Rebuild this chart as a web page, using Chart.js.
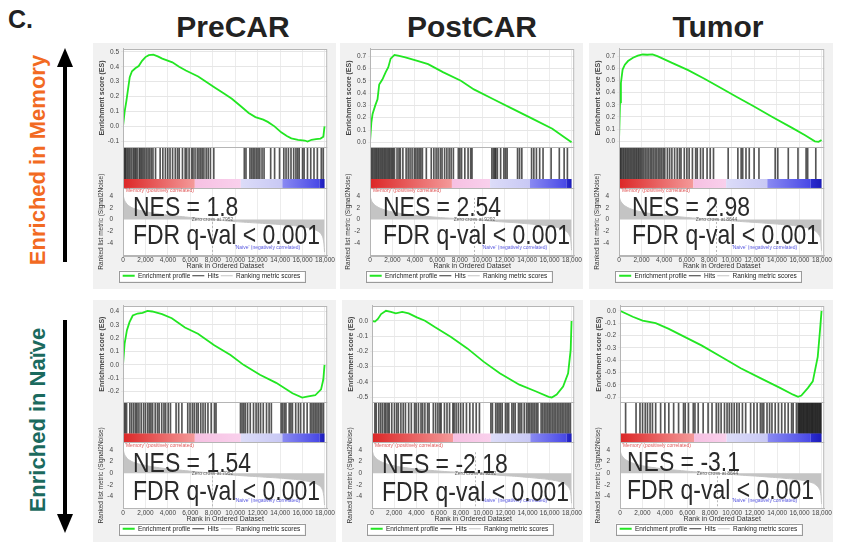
<!DOCTYPE html>
<html>
<head>
<meta charset="utf-8">
<script src="https://cdn.jsdelivr.net/npm/chart.js@4.4.0/dist/chart.umd.min.js"></script>
<style>
  body { margin: 0; width: 842px; height: 542px; position: relative; background: #fff; overflow: hidden;
         font-family: "Liberation Sans", Arial, sans-serif; }
  canvas { position: absolute; background: #f1f1f1; }
  .ttl { position: absolute; font-weight: bold; font-size: 30px; line-height: 1; color: #222; transform: translateX(-50%); white-space: nowrap; }
  .big { position: absolute; font-size: 28px; line-height: 1; color: #2a2a2a; transform: scaleX(0.82); transform-origin: 0 0; white-space: nowrap; }
  .side { position: absolute; font-weight: bold; font-size: 22px; line-height: 1; white-space: nowrap; transform: translate(-50%, -50%) rotate(-90deg); }
</style>
</head>
<body>
<div class="ttl" style="top:7px;font-size:25px;transform:none;left:8px">C.</div>
<div class="ttl" style="left:233px;top:12px">PreCAR</div>
<div class="ttl" style="left:472px;top:12px">PostCAR</div>
<div class="ttl" style="left:718px;top:12px">Tumor</div>
<div class="side" style="left:38px;top:160px;color:#f26a22">Enriched in Memory</div>
<div class="side" style="left:38px;top:420px;color:#1b6a5e">Enriched in Naïve</div>
<svg style="position:absolute;left:0;top:0" width="100" height="542">
  <line x1="65" y1="262" x2="65" y2="62" stroke="#000" stroke-width="4"/>
  <polygon points="65,48 57,67 73,67" fill="#000"/>
  <line x1="65" y1="320" x2="65" y2="518" stroke="#000" stroke-width="4"/>
  <polygon points="65,533 57,514 73,514" fill="#000"/>
</svg>

<canvas id="c1" width="243" height="246" style="left:93px;top:43px"></canvas>
<canvas id="c2" width="243" height="246" style="left:340px;top:43px"></canvas>
<canvas id="c3" width="244" height="246" style="left:589px;top:43px"></canvas>
<canvas id="c4" width="243" height="242" style="left:93px;top:300px"></canvas>
<canvas id="c5" width="241" height="242" style="left:342px;top:300px"></canvas>
<canvas id="c6" width="243" height="242" style="left:590px;top:300px"></canvas>

<div class="big" style="left:133px;top:193px">NES = 1.8</div>
<div class="big" style="left:133px;top:221px">FDR q-val &lt; 0.001</div>
<div class="big" style="left:383px;top:193px">NES = 2.54</div>
<div class="big" style="left:383px;top:221px">FDR q-val &lt; 0.001</div>
<div class="big" style="left:632px;top:193px">NES = 2.98</div>
<div class="big" style="left:632px;top:221px">FDR q-val &lt; 0.001</div>
<div class="big" style="left:133px;top:449px">NES = 1.54</div>
<div class="big" style="left:133px;top:477px">FDR q-val &lt; 0.001</div>
<div class="big" style="left:382px;top:450px">NES = -2.18</div>
<div class="big" style="left:382px;top:478px">FDR q-val &lt; 0.001</div>
<div class="big" style="left:627px;top:448px">NES = -3.1</div>
<div class="big" style="left:627px;top:476px">FDR q-val &lt; 0.001</div>

<script>
// ---- data ----
const xTicks = [0, 2000, 4000, 6000, 8000, 10000, 12000, 14000, 16000, 18000];
const rankTicks = [-4, -2, 0, 2, 4];

// enrichment curves, memory gene set (top row)
const esMemPreX = [0,150,300,450,600,800,1100,1400,1700,2000,2300,2700,3100,3500,4400,5000,5600,6700,7400,8200,9000,9700,10500,11200,11800,12500,12900,13500,14100,14600,15000,15600,16200,16450,16800,17200,17600,17850,17960];
const esMemPreY = [0,0.1,0.17,0.25,0.33,0.37,0.39,0.405,0.44,0.465,0.478,0.482,0.47,0.455,0.43,0.4,0.375,0.335,0.3,0.26,0.22,0.185,0.135,0.09,0.062,0.045,0.03,0,-0.04,-0.065,-0.08,-0.09,-0.095,-0.102,-0.09,-0.085,-0.082,-0.07,0];
const esMemPostX = [0,120,230,470,670,820,1100,1400,1630,1840,2180,2500,3150,4300,5180,6500,8100,9260,11000,12760,14500,16250,17130,17960];
const esMemPostY = [0,0.16,0.23,0.3,0.35,0.47,0.51,0.57,0.61,0.68,0.71,0.705,0.69,0.66,0.635,0.57,0.5,0.43,0.35,0.27,0.19,0.11,0.054,0];
const esMemTumX = [0,90,170,320,520,800,1240,1670,2100,2500,2970,3400,4700,6130,7575,9000,10450,11900,13600,15350,16500,17370,17700,17960];
const esMemTumY = [0,0.32,0.48,0.59,0.63,0.66,0.687,0.705,0.714,0.712,0.715,0.7,0.645,0.585,0.515,0.44,0.365,0.29,0.2,0.11,0.05,0,-0.005,0.01];

// enrichment curves, naive gene set (bottom row)
const esNaiPreX = [0,145,350,580,870,1300,1740,2180,2600,3480,4350,5520,6680,8130,9580,10740,12200,13650,15100,15970,16400,17130,17650,17850,17960];
const esNaiPreY = [0,0.16,0.26,0.32,0.37,0.385,0.39,0.405,0.4,0.38,0.35,0.28,0.233,0.147,0.074,0,-0.074,-0.135,-0.213,-0.245,-0.238,-0.228,-0.184,-0.11,0];
const esNaiPostX = [0,270,530,820,1260,1700,2140,2720,3300,4040,4770,5650,7110,8580,10040,11500,13260,14720,15900,16180,16620,17200,17650,17880,17960];
const esNaiPostY = [0,-0.004,0.013,0.045,0.067,0.06,0.05,0.06,0.05,0.024,0.002,-0.04,-0.105,-0.18,-0.267,-0.343,-0.418,-0.461,-0.498,-0.502,-0.483,-0.43,-0.343,-0.19,0];
const esNaiTumX = [0,1140,2010,3180,4350,5800,7260,9010,10760,12510,14260,15430,15870,16160,16750,17180,17620,17820,17960];
const esNaiTumY = [0,-0.048,-0.08,-0.1,-0.146,-0.213,-0.28,-0.373,-0.466,-0.546,-0.625,-0.68,-0.697,-0.687,-0.625,-0.572,-0.373,-0.16,0];

// hit positions (rank of each gene-set member)
const hitsMemPre = [90,180,260,380,500,620,760,910,1030,1140,1260,1440,1550,1670,1790,1930,2080,2230,2370,2520,2670,2900,3310,3550,3780,3990,4190,4420,4660,4860,5010,5300,5540,5680,5890,6120,6240,6420,6620,6770,6920,7060,7210,7410,7590,7790,8090,10810,10960,11310,11460,11600,11750,11900,12040,12190,12390,12570,13160,13510,13950,14330,14530,14740,14970,15210,15410,15560,15700,16000,16140,16440,16730,17020,17320,17670,17840];
const hitsMemPost = [90,200,320,440,550,670,780,900,1020,1130,1250,1360,1480,1600,1710,1830,1950,2060,2180,2410,2580,2700,2930,3220,3400,3570,3750,3950,4090,4240,4380,4530,4670,5020,5460,5690,5890,6070,6270,6420,6650,6850,7050,7230,7430,7870,8010,8160,8450,8740,8970,9090,10860,11000,11120,11210,11350,11640,11930,12080,12220,13150,13330,13530,14400,14600,14830,15120,15420,16140,16870,17300,17590];
const hitsMemTum = [30,120,200,320,430,550,660,780,890,1010,1120,1240,1350,1470,1580,1700,1810,1930,2050,2190,2330,2480,2620,2770,2910,3050,3200,3340,3490,3630,3770,3920,4060,4290,4490,4690,4930,5160,5360,5500,5790,6020,6220,6510,6800,6940,7230,7460,7810,8090,8380,9680,10540,10830,10970,11260,11550,11980,12410,13850,14080,15010,15870,16590,16730,17450];
const hitsNaiPre = [90,200,320,610,780,960,1130,1250,1420,1620,1830,2000,2200,2350,2490,2640,2870,3070,3220,3450,3650,3800,4030,4230,4730,4960,5250,5770,5970,6180,6350,6550,6700,6930,7130,7330,7570,7860,8150,8290,10470,10610,10760,10900,11100,11340,11630,11860,12060,12260,12500,12790,13020,13220,14090,14230,14380,14520,14810,14960,15100,15390,15630,15830,16120,16410,16700,16840,16990,17130,17280,17420,17570,17710,17860];
const hitsNaiPost = [260,380,610,790,960,1140,1260,1430,1550,1780,2020,2220,2370,2600,2810,3010,3300,3540,3830,3970,4180,4410,4560,4760,5000,5140,5520,5730,5930,6110,6220,6520,6750,6980,7280,7390,7570,7770,7980,8210,8500,8800,9090,9380,9670,10700,10840,11130,11280,11430,11570,11720,12010,12160,12300,12590,12740,12890,13180,13320,13470,13700,13910,14060,14200,14350,14490,14640,14790,14930,15220,15370,15520,15660,15810,15950,16100,16250,16390,16540,16690,16830,16980,17120,17270,17420,17560,17710,17850];
const hitsNaiTum = [500,1430,1780,2010,2250,2450,2680,2890,3180,3620,4000,4350,4780,5220,5660,5810,6100,6530,6680,6970,7410,7850,8200,8580,8780,9010,9310,9540,9740,9950,10180,10410,10620,10910,11200,11640,11930,12220,12510,12660,12810,13100,13330,13540,13830,14120,14410,14700,14990,15290,15430,15720,15870,15950,16020,16090,16160,16230,16310,16380,16450,16530,16600,16670,16740,16820,16890,16960,17040,17110,17180,17250,17330,17400,17470,17550,17620,17700,17770,17840,17910];

// ranked list metric (signal-to-noise) per comparison
const rankPreX = [0,30,150,400,800,1500,2500,4000,6000,7952,10000,12000,14000,15500,16500,17200,17600,17800,17900,17960];
const rankPreY = [4.9,4.0,3.2,2.5,2.0,1.55,1.15,0.75,0.35,0,-0.35,-0.6,-0.85,-1.1,-1.4,-1.8,-2.3,-3.0,-4.0,-5.5];
const rankPostX = [0,30,150,400,800,1500,2500,4000,6500,9292,11000,13000,14500,15800,16700,17300,17650,17850,17920,17960];
const rankPostY = [4.7,3.9,3.1,2.5,2.0,1.5,1.1,0.72,0.3,0,-0.3,-0.55,-0.8,-1.05,-1.35,-1.75,-2.3,-3.0,-4.0,-5.2];
const rankTumX = [0,30,150,400,800,1500,2500,4000,6300,8644,10500,12500,14200,15600,16600,17250,17620,17840,17920,17960];
const rankTumY = [4.5,3.8,3.1,2.5,2.0,1.5,1.1,0.72,0.3,0,-0.3,-0.55,-0.8,-1.05,-1.35,-1.75,-2.3,-3.0,-4.0,-5.3];

// colour-bar segment ends and zero crossings
const barPre = [6400, 10500, 14200, 17500, 17960];
const barPost = [7300, 10700, 14250, 17500, 17960];
const barTum = [6600, 9500, 13150, 17000, 17960];
const zeroCross = { pre: 7952, post: 9292, tum: 8644 };

const esTicksMemPre = [-0.1, 0, 0.1, 0.2, 0.3, 0.4, 0.5];
const esTicksMemHi = [0, 0.1, 0.2, 0.3, 0.4, 0.5, 0.6, 0.7];
const esTicksNaiPre = [-0.2, -0.1, 0, 0.1, 0.2, 0.3, 0.4];
const esTicksNaiPost = [-0.5, -0.4, -0.3, -0.2, -0.1, 0];
const esTicksNaiTum = [-0.7, -0.6, -0.5, -0.4, -0.3, -0.2, -0.1, 0];

const barColors = [['#dc2626', '#f49a9a'], ['#f6c0e2', '#f9d0ec'], ['#dcdcf8', '#c8c8f4'], ['#8a8af2', '#4848e6'], ['#2c2cd0', '#1c1cb8']];
const FONT = "'Liberation Sans', Arial, sans-serif";

const panels = [
  { id: 'c1', esX: esMemPreX, esY: esMemPreY, hits: hitsMemPre, rX: rankPreX, rY: rankPreY, bar: barPre, zero: zeroCross.pre, min: -0.14, max: 0.52, ticks: esTicksMemPre, top: 3 },
  { id: 'c2', esX: esMemPostX, esY: esMemPostY, hits: hitsMemPost, rX: rankPostX, rY: rankPostY, bar: barPost, zero: zeroCross.post, min: -0.04, max: 0.759, ticks: esTicksMemHi, top: 3 },
  { id: 'c3', esX: esMemTumX, esY: esMemTumY, hits: hitsMemTum, rX: rankTumX, rY: rankTumY, bar: barTum, zero: zeroCross.tum, min: -0.049, max: 0.76, ticks: esTicksMemHi, top: 3 },
  { id: 'c4', esX: esNaiPreX, esY: esNaiPreY, hits: hitsNaiPre, rX: rankPreX, rY: rankPreY, bar: barPre, zero: zeroCross.pre, min: -0.281, max: 0.442, ticks: esTicksNaiPre, top: 4 },
  { id: 'c5', esX: esNaiPostX, esY: esNaiPostY, hits: hitsNaiPost, rX: rankPostX, rY: rankPostY, bar: barPost, zero: zeroCross.post, min: -0.534, max: 0.099, ticks: esTicksNaiPost, top: 4 },
  { id: 'c6', esX: esNaiTumX, esY: esNaiTumY, hits: hitsNaiTum, rX: rankTumX, rY: rankTumY, bar: barTum, zero: zeroCross.tum, min: -0.742, max: 0.04, ticks: esTicksNaiTum, top: 4 }
];

const BAR_TOP = 0.22; // share of the hits strip used by the colour bar

// draws white plot area, colour bar, zero-cross marker, section frames, small labels, legend frame
const gseaPlugin = {
  id: 'gsea',
  beforeDraw(chart) {
    const { ctx, chartArea: a } = chart;
    ctx.save();
    ctx.fillStyle = '#fff';
    ctx.fillRect(a.left, a.top, a.width, a.height);
    ctx.restore();
  },
  afterDatasetsDraw(chart, args, opts) {
    const { ctx, chartArea: a, scales } = chart;
    const x = scales.x, yE = scales.yES, yH = scales.yHit, yR = scales.yRank;
    ctx.save();
    // colour bar
    const yb0 = yH.getPixelForValue(0), yb1 = yH.getPixelForValue(BAR_TOP);
    let start = 0;
    opts.bar.forEach((end, i) => {
      const xa = x.getPixelForValue(start), xb = x.getPixelForValue(end);
      const g = ctx.createLinearGradient(xa, 0, xb, 0);
      g.addColorStop(0, barColors[i][0]);
      g.addColorStop(1, barColors[i][1]);
      ctx.fillStyle = g;
      ctx.fillRect(xa, yb1, xb - xa, yb0 - yb1);
      start = end;
    });
    // zero-cross marker
    const xz = Math.round(x.getPixelForValue(opts.zero)) + 0.5;
    ctx.strokeStyle = '#b8b8b8';
    ctx.setLineDash([2, 2]);
    ctx.beginPath();
    ctx.moveTo(xz, yR.top + 10);
    ctx.lineTo(xz, yR.bottom);
    ctx.stroke();
    ctx.setLineDash([]);
    // frames
    ctx.strokeStyle = '#b5b5b5';
    ctx.lineWidth = 1;
    [yE, yH, yR].forEach(s => ctx.strokeRect(a.left + 0.5, Math.round(s.top) + 0.5, a.width - 1, Math.round(s.bottom - s.top)));
    // small labels
    ctx.font = '5px ' + FONT;
    ctx.textBaseline = 'middle';
    ctx.fillStyle = '#e05a5a';
    ctx.textAlign = 'left';
    ctx.fillText("'Memory' (positively correlated)", a.left + 2, yR.top + 3);
    ctx.fillStyle = '#666';
    ctx.textAlign = 'center';
    ctx.fillText('Zero cross at ' + opts.zero, xz, yR.getPixelForValue(0));
    ctx.fillStyle = '#5a5ae0';
    ctx.textAlign = 'right';
    ctx.fillText("'Naive' (negatively correlated)", a.right - 27, yR.bottom - 8);
    ctx.restore();
  },
  afterDraw(chart) {
    const lg = chart.legend;
    if (!lg || !lg.legendHitBoxes.length) return;
    const hb = lg.legendHitBoxes;
    const l = Math.min(...hb.map(b => b.left)) - 4;
    const r = Math.max(...hb.map(b => b.left + b.width)) + 4;
    const t = Math.min(...hb.map(b => b.top)) - 2;
    const btm = Math.max(...hb.map(b => b.top + b.height)) + 2;
    const ctx = chart.ctx;
    ctx.save();
    ctx.fillStyle = '#fff';
    ctx.globalCompositeOperation = 'destination-over';
    ctx.fillRect(l, t, r - l, btm - t);
    ctx.globalCompositeOperation = 'source-over';
    ctx.strokeStyle = '#9a9a9a';
    ctx.strokeRect(Math.round(l) + 0.5, Math.round(t) + 0.5, Math.round(r - l), Math.round(btm - t));
    ctx.restore();
  }
};

const tickFont = { family: FONT, size: 6.5 };
const fixWidth = s => { s.width = 30; };

panels.forEach(p => {
  new Chart(document.getElementById(p.id), {
    type: 'line',
    data: {
      datasets: [
        {
          label: 'Enrichment profile',
          data: p.esX.map((v, i) => ({ x: v, y: p.esY[i] })),
          yAxisID: 'yES',
          borderColor: '#22e622',
          borderWidth: 1.8,
          pointRadius: 0,
          tension: 0
        },
        {
          type: 'bar',
          label: 'Hits',
          data: p.hits.map(v => ({ x: v, y: [BAR_TOP, 1] })),
          yAxisID: 'yHit',
          backgroundColor: 'rgba(20,20,20,0.72)',
          borderWidth: 0,
          barThickness: 1,
          grouped: false
        },
        {
          label: 'Ranking metric scores',
          data: p.rX.map((v, i) => ({ x: v, y: p.rY[i] })),
          yAxisID: 'yRank',
          borderColor: '#c4c4c4',
          backgroundColor: '#c4c4c4',
          borderWidth: 1,
          pointRadius: 0,
          tension: 0.2,
          fill: 'origin'
        }
      ]
    },
    options: {
      responsive: false,
      animation: false,
      locale: 'en-US',
      layout: { padding: { top: p.top, right: 6, bottom: 0, left: 0 } },
      scales: {
        x: {
          type: 'linear', min: 0, max: 18200, offset: false,
          afterBuildTicks: s => { s.ticks = xTicks.map(v => ({ value: v })); },
          afterFit: s => { s.height = 15; },
          ticks: { font: tickFont, color: '#444', maxRotation: 0, autoSkip: false, padding: 1, callback: v => v.toLocaleString('en-US') },
          grid: { color: '#ececec', drawTicks: false, offset: false },
          border: { color: '#b5b5b5' },
          title: { display: true, text: 'Rank in Ordered Dataset', font: { family: FONT, size: 7 }, color: '#333', padding: 0 }
        },
        yRank: {
          type: 'linear', position: 'left', stack: 'gsea', stackWeight: 68, min: -6.1, max: 5.35,
          afterBuildTicks: s => { s.ticks = rankTicks.map(v => ({ value: v })); },
          ticks: { font: tickFont, color: '#444', padding: 2, autoSkip: false },
          grid: { display: false },
          border: { color: '#b5b5b5' },
          title: { display: true, text: 'Ranked list metric (Signal2Noise)', font: { family: FONT, size: 6.5 }, color: '#333', padding: { top: 4, bottom: 0 } },
          afterFit: fixWidth
        },
        yHit: {
          type: 'linear', position: 'left', stack: 'gsea', stackWeight: 41, min: 0, max: 1,
          ticks: { display: false },
          grid: { display: false },
          border: { color: '#b5b5b5' },
          afterFit: fixWidth
        },
        yES: {
          type: 'linear', position: 'left', stack: 'gsea', stackWeight: 99, min: p.min, max: p.max,
          afterBuildTicks: s => { s.ticks = p.ticks.map(v => ({ value: v })); },
          ticks: { font: tickFont, color: '#444', padding: 2, autoSkip: false, callback: v => v.toFixed(1) },
          grid: { color: '#e6e6e6', tickLength: 2 },
          border: { color: '#b5b5b5' },
          title: { display: true, text: 'Enrichment score (ES)', font: { family: FONT, size: 7, weight: 'bold' }, color: '#444', padding: { top: 5, bottom: 0 } },
          afterFit: fixWidth
        }
      },
      plugins: {
        gsea: { bar: p.bar, zero: p.zero },
        tooltip: { enabled: false },
        legend: {
          position: 'bottom',
          labels: {
            font: { family: FONT, size: 6.5 },
            color: '#222',
            usePointStyle: true,
            pointStyleWidth: 12,
            boxHeight: 6,
            padding: 2,
            generateLabels: chart => chart.data.datasets.map((d, i) => ({
              text: d.label,
              datasetIndex: i,
              pointStyle: 'line',
              fillStyle: ['#22e622', '#333', '#c4c4c4'][i],
              strokeStyle: ['#22e622', '#333', '#c4c4c4'][i],
              lineWidth: [2, 1, 1][i],
              fontColor: '#222'
            }))
          }
        }
      }
    },
    plugins: [gseaPlugin]
  });
});
</script>
</body>
</html>
